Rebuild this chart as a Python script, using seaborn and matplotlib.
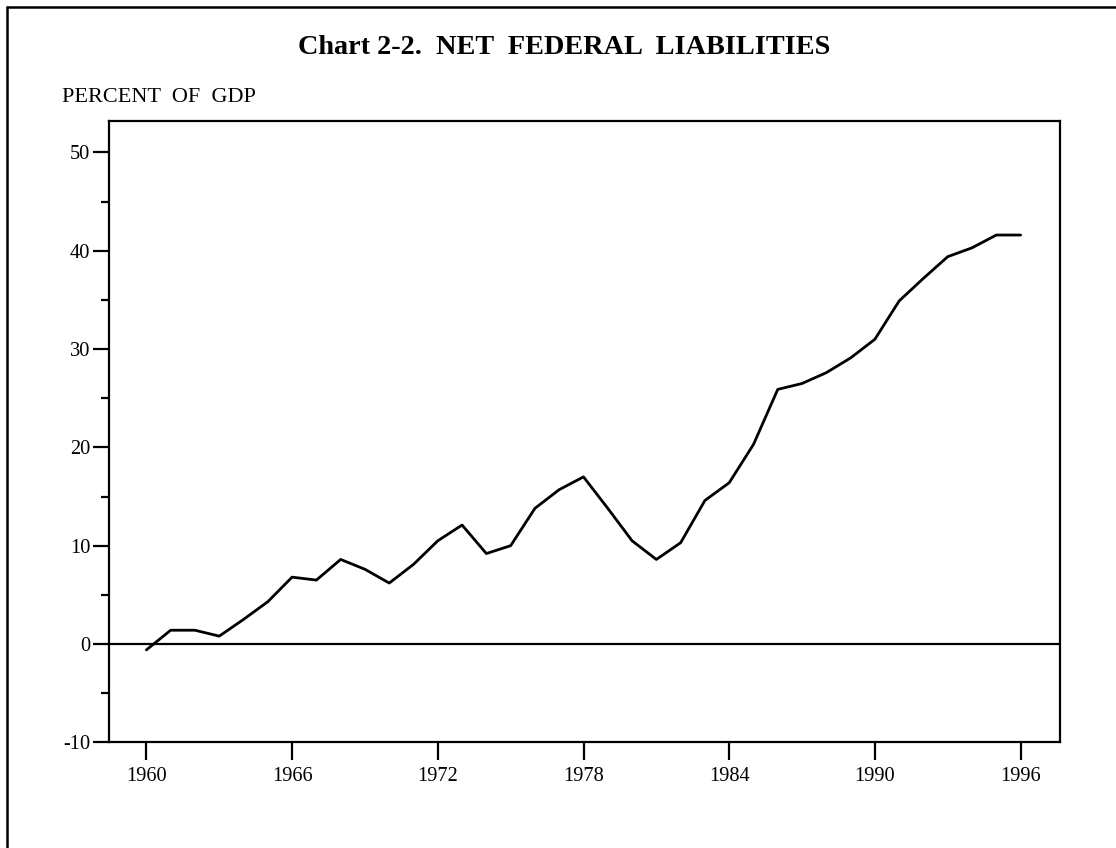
import matplotlib
matplotlib.use("Agg")
import matplotlib.pyplot as plt
import seaborn as sns
import pandas as pd
from matplotlib.lines import Line2D
from matplotlib.ticker import MultipleLocator

years = list(range(1960, 1997))
liabilities = [-0.6, 1.4, 1.4, 0.8, 2.5, 4.3, 6.8, 6.5, 8.6, 7.6, 6.2,
               8.1, 10.5, 12.1, 9.2, 10.0, 13.8, 15.7, 17.0, 13.8, 10.5,
               8.6, 10.3, 14.6, 16.4, 20.3, 25.9, 26.5, 27.6, 29.1, 31.0,
               34.9, 37.2, 39.4, 40.3, 41.6, 41.6]
xticks = [1960, 1966, 1972, 1978, 1984, 1990, 1996]
yticks = [-10, 0, 10, 20, 30, 40, 50]

df = pd.DataFrame({"year": years, "pct": liabilities})

sns.set_style("white")
plt.rcParams["font.family"] = ["Liberation Serif", "DejaVu Serif"]
plt.rcParams["axes.unicode_minus"] = False
plt.rcParams["text.color"] = "black"
plt.rcParams["xtick.color"] = "black"
plt.rcParams["ytick.color"] = "black"

fig = plt.figure(figsize=(11.16, 8.48), dpi=100)
ax = fig.add_axes([109 / 1116, 1 - 742.3 / 848, 950.7 / 1116, 621.3 / 848])

sns.lineplot(data=df, x="year", y="pct", ax=ax, color="black", linewidth=2.0)
ax.axhline(0, color="black", linewidth=1.6)

ax.set_xlim(1958.46, 1997.61)
ax.set_ylim(-10, 53.2)
ax.set_xticks(xticks)
ax.set_yticks(yticks)
ax.yaxis.set_minor_locator(MultipleLocator(5))
ax.set_xlabel("")
ax.set_ylabel("")

for s in ax.spines.values():
    s.set_linewidth(1.6)
    s.set_color("black")

ax.tick_params(axis="y", which="major", direction="out", length=11.5, width=1.6,
               labelsize=14.7, pad=2, left=True, colors="black")
ax.tick_params(axis="y", which="minor", direction="out", length=5.8, width=1.6, left=True,
               colors="black")
ax.tick_params(axis="x", which="major", direction="out", length=13, width=1.6,
               labelsize=14.7, pad=5, bottom=True, colors="black")

fig.text(564 / 1116, 1 - 47 / 848, "Chart 2-2.  NET  FEDERAL  LIABILITIES",
         ha="center", va="center", fontsize=20.3, fontweight="bold", color="black")
fig.text(62 / 1116, 1 - 97 / 848, "PERCENT  OF  GDP", ha="left", va="center",
         fontsize=16, color="black")

# frame lines (top and left only visible)
fig.add_artist(Line2D([7 / 1116, 7 / 1116], [0, 1 - 7 / 848], transform=fig.transFigure,
                      color="black", linewidth=1.8))
fig.add_artist(Line2D([7 / 1116, 1], [1 - 7 / 848, 1 - 7 / 848], transform=fig.transFigure,
                      color="black", linewidth=1.8))

fig.savefig("out.png", dpi=100)
